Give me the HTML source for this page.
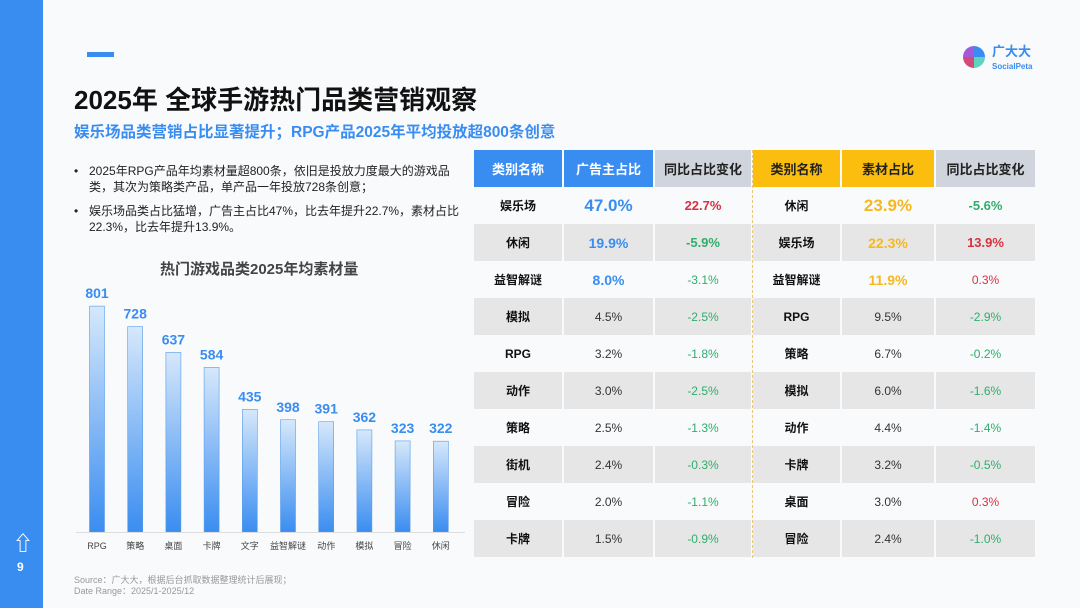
<!DOCTYPE html>
<html><head><meta charset="utf-8">
<style>
*{margin:0;padding:0;box-sizing:border-box}
body{width:1080px;height:608px;overflow:hidden;background:#f8fafc;font-family:"Liberation Sans","Noto Sans CJK SC",sans-serif;position:relative}
.abs{position:absolute}
table{border-collapse:separate;border-spacing:2px 0;position:absolute;left:472px;top:150px}
td{height:37px;text-align:center;font-size:12px;color:#333}
th{height:37px;font-size:13px;font-weight:bold}
tr.g td{background:#e6e6e6}
.b{font-weight:bold;color:#111}
</style></head><body>
<div class="abs" style="left:0;top:0;width:43px;height:608px;background:#3a8df0"></div>
<div class="abs" style="left:13px;top:527px;color:#fff;font-size:20px;font-weight:bold">⇧</div>
<div class="abs" style="left:17px;top:560px;color:#fff;font-size:12px;font-weight:bold">9</div>
<div class="abs" style="left:87px;top:52px;width:27px;height:5px;background:#3a8df0"></div>
<div class="abs" style="left:74px;top:80px;font-size:26px;font-weight:bold;color:#111">2025年 全球手游热门品类营销观察</div>
<div class="abs" style="left:74px;top:120px;font-size:15.5px;font-weight:bold;color:#3a8df0;white-space:nowrap">娱乐场品类营销占比显著提升；RPG产品2025年平均投放超800条创意</div>
<div class="abs" style="left:963px;top:46px;width:22px;height:22px;border-radius:50%;background:conic-gradient(#3a8df0 0 25%,#5fd3c0 0 50%,#d24a7a 0 75%,#a35ad8 0)"></div>
<div class="abs" style="left:992px;top:45px;color:#3a8df0;font-size:13px;font-weight:bold;line-height:13px">广大大<br><span style="font-size:8px">SocialPeta</span></div>
<div class="abs" style="left:74px;top:163px;width:392px;font-size:12px;color:#222;line-height:16px">
<div style="padding-left:15px;position:relative"><span style="position:absolute;left:0">•</span>2025年RPG产品年均素材量超800条，依旧是投放力度最大的游戏品类，其次为策略类产品，单产品一年投放728条创意；</div>
<div style="padding-left:15px;position:relative;margin-top:8px"><span style="position:absolute;left:0">•</span>娱乐场品类占比猛增，广告主占比47%，比去年提升22.7%，素材占比22.3%，比去年提升13.9%。</div></div>
<div class="abs" style="left:160px;top:258px;font-size:15px;font-weight:bold;color:#444">热门游戏品类2025年均素材量</div>
<svg class="abs" style="left:0;top:0" width="470" height="608">
<defs><linearGradient id="bg" x1="0" y1="0" x2="0" y2="1"><stop offset="0" stop-color="#d6e8fb"/><stop offset="1" stop-color="#3a8df0"/></linearGradient></defs>
<g id="bars"></g></svg>
<div class="abs" style="left:74px;top:575px;font-size:9px;color:#999;line-height:11px">Source：广大大，根据后台抓取数据整理统计后展现；<br>Date Range：2025/1-2025/12</div>
<div class="abs" style="left:752px;top:150px;height:408px;border-left:1px dashed #e8c870"></div>
<table><thead><tr>
<th style="width:88px;background:#3a8df0;color:#fff">类别名称</th><th style="width:89px;background:#3a8df0;color:#fff">广告主占比</th><th style="width:96px;background:#d0d4dc;color:#222">同比占比变化</th>
<th style="width:87px;background:#fbbd0e;color:#222">类别名称</th><th style="width:92px;background:#fbbd0e;color:#222">素材占比</th><th style="width:99px;background:#d0d4dc;color:#222">同比占比变化</th></tr></thead><tbody id="tb"></tbody></table>
<script>
const categories=['RPG','策略','桌面','卡牌','文字','益智解谜','动作','模拟','冒险','休闲'];
const values=[801,728,637,584,435,398,391,362,323,322];
const y=v=>532-v*0.282, x=i=>97+i*38.2;
const g=document.getElementById('bars');
categories.forEach((c,i)=>{
 const r=document.createElementNS('http://www.w3.org/2000/svg','rect');
 
 
 r.setAttribute('x',x(i)-7.5);r.setAttribute('y',y(values[i]));r.setAttribute('width',15);r.setAttribute('height',532-y(values[i]));r.setAttribute('fill','url(#bg)');r.setAttribute('stroke','#5a9de8');r.setAttribute('stroke-width','0.6');g.appendChild(r);
 const t=document.createElementNS('http://www.w3.org/2000/svg','text');
 
 
 t.setAttribute('x',x(i));t.setAttribute('y',y(values[i])-8);t.setAttribute('text-anchor','middle');t.setAttribute('font-size','14');t.setAttribute('font-weight','bold');t.setAttribute('fill','#3a8df0');t.textContent=values[i];g.appendChild(t);
 const l=document.createElementNS('http://www.w3.org/2000/svg','text');
 
 
 l.setAttribute('x',x(i));l.setAttribute('y',549);l.setAttribute('text-anchor','middle');l.setAttribute('font-size','9');l.setAttribute('fill','#444');l.textContent=c;g.appendChild(l);
});
const ax=document.createElementNS('http://www.w3.org/2000/svg','line');


ax.setAttribute('x1',76);ax.setAttribute('x2',465);ax.setAttribute('y1',532.5);ax.setAttribute('y2',532.5);ax.setAttribute('stroke','#ddd');g.appendChild(ax);

const advCats=['娱乐场','休闲','益智解谜','模拟','RPG','动作','策略','街机','冒险','卡牌'];
const advShare=['47.0%','19.9%','8.0%','4.5%','3.2%','3.0%','2.5%','2.4%','2.0%','1.5%'];
const advChg=['22.7%','-5.9%','-3.1%','-2.5%','-1.8%','-2.5%','-1.3%','-0.3%','-1.1%','-0.9%'];
const matCats=['休闲','娱乐场','益智解谜','RPG','策略','模拟','动作','卡牌','桌面','冒险'];
const matShare=['23.9%','22.3%','11.9%','9.5%','6.7%','6.0%','4.4%','3.2%','3.0%','2.4%'];
const matChg=['-5.6%','13.9%','0.3%','-2.9%','-0.2%','-1.6%','-1.4%','-0.5%','0.3%','-1.0%'];
const tb=document.getElementById('tb');
const chgStyle=(v,i)=>{const neg=v[0]=='-';const c=neg?'#2fae6a':'#d9313f';return i<2?`color:${c};font-weight:bold;font-size:13px`:`color:${c}`};
const shStyle=(c,i)=>i==0?`color:${c};font-weight:bold;font-size:17px`:i<3?`color:${c};font-weight:bold;font-size:14px`:'';
advCats.forEach((c,i)=>{
 const tr=document.createElement('tr');
 
 
 if(i%2)tr.className='g';
 tr.innerHTML=`<td class="b">${c}</td><td style="${shStyle('#3a8df0',i)}">${advShare[i]}</td><td style="${chgStyle(advChg[i],i)}">${advChg[i]}</td><td class="b">${matCats[i]}</td><td style="${shStyle('#f5b820',i)}">${matShare[i]}</td><td style="${chgStyle(matChg[i],i)}">${matChg[i]}</td>`;
 tb.appendChild(tr);
});
</script>
</body></html>
